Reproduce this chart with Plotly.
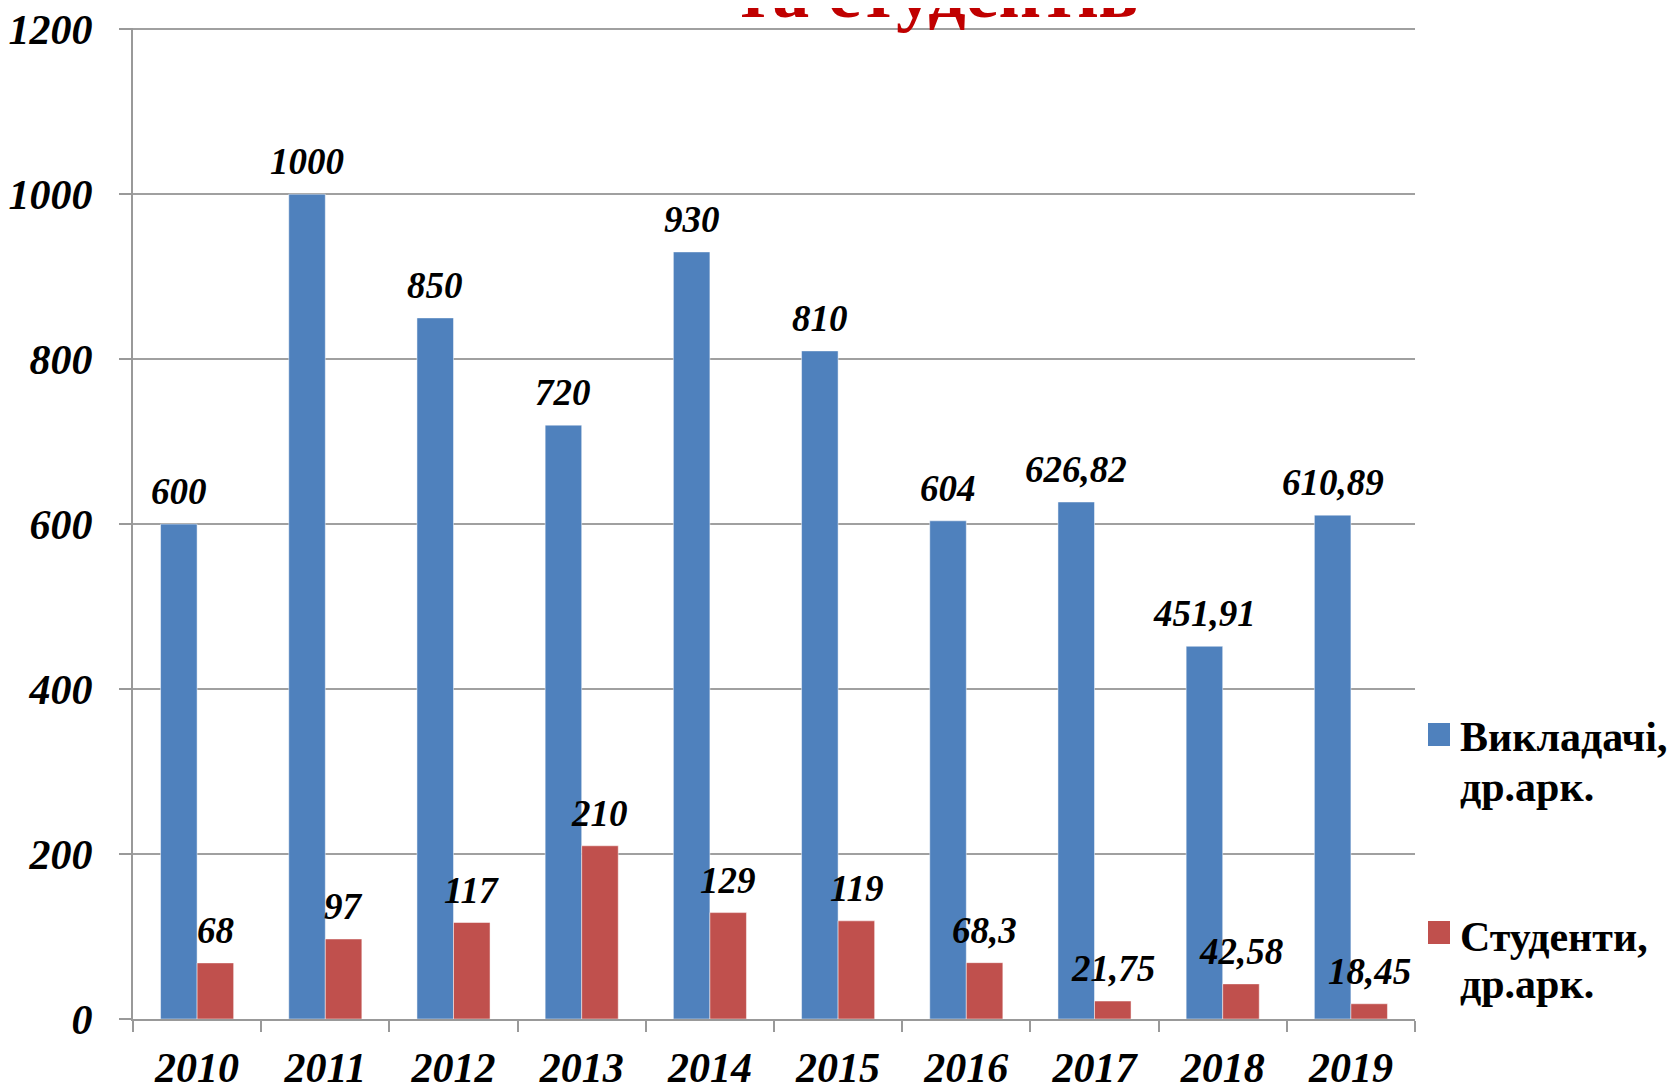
import plotly.graph_objects as go

years = ["2010", "2011", "2012", "2013", "2014", "2015", "2016", "2017", "2018", "2019"]
teachers = [600, 1000, 850, 720, 930, 810, 604, 626.82, 451.91, 610.89]
students = [68, 97, 117, 210, 129, 119, 68.3, 21.75, 42.58, 18.45]
series_names = [["Викладачі,", "др.арк."], ["Студенти,", "др.арк."]]
title_text = "та студентів"
y_ticks = [0, 200, 400, 600, 800, 1000, 1200]

BLUE = "#4F81BD"
RED = "#C0504D"
SERIF = "Liberation Serif"

# page offset of the figure (default body margin)
OFF = 8
W, H = 1676, 1085
# plot area in screen pixels
SL, SR, ST, SB = 133, 1415, 28, 1019
ML, MT = SL - OFF, ST - OFF
MR = W - (SR - OFF)
MB = H - (SB - OFF)
PW, PH = W - ML - MR, H - MT - MB
Y_MAX = 1201.5


def px_x(p):
    return (p - SL) / PW


def px_y(p):
    return (SB - p) / PH


def fmt(v):
    s = f"{v:g}"
    return s.replace(".", ",")


fig = go.Figure()
fig.add_trace(go.Bar(x=years, y=teachers, marker=dict(color=BLUE, line=dict(width=0.8, color="rgba(255,255,255,0.6)")),
                     showlegend=False, name="Викладачі"))
fig.add_trace(go.Bar(x=years, y=students, marker=dict(color=RED, line=dict(width=0.8, color="rgba(255,255,255,0.6)")),
                     showlegend=False, name="Студенти"))

bargap = 0.43
cat_px = PW / len(years)
half = cat_px * (1 - bargap) / 4

annotations = []
for series, shift in ((teachers, -half), (students, half)):
    for i, v in enumerate(series):
        annotations.append(dict(
            x=i, y=v, xref="x", yref="y", text=fmt(v), showarrow=False,
            xshift=shift, yshift=10, yanchor="bottom", xanchor="center",
            font=dict(family=SERIF, size=37, color="black", weight="bold", style="italic")))

# title (partially cut at top of the page)
annotations.append(dict(
    x=px_x(937), y=px_y(29), xref="paper", yref="paper", text=title_text, showarrow=False,
    xanchor="center", yanchor="bottom", yshift=-6,
    font=dict(family=SERIF, size=74, color="#C00000", weight="bold")))

# manual legend
shapes = []
LEG_FS = 42
legend_items = [(series_names[0], BLUE, 723, (750, 800)), (series_names[1], RED, 921, (950, 997))]
for lines, col, top, baselines in legend_items:
    shapes.append(dict(type="rect", xref="paper", yref="paper",
                       x0=px_x(1428), x1=px_x(1450), y0=px_y(top + 23), y1=px_y(top),
                       fillcolor=col, line=dict(width=0)))
    for line, base in zip(lines, baselines):
        annotations.append(dict(
            x=px_x(1458), y=px_y(base + 0.29 * LEG_FS), xref="paper", yref="paper", text=line,
            showarrow=False, xanchor="left", yanchor="bottom", align="left",
            font=dict(family=SERIF, size=LEG_FS, color="black", weight="bold")))

fig.update_layout(
    width=W, height=H,
    margin=dict(l=ML, r=MR, t=MT, b=MB, pad=0, autoexpand=False),
    plot_bgcolor="white", paper_bgcolor="white",
    barmode="group", bargap=bargap, bargroupgap=0,
    annotations=annotations, shapes=shapes,
    showlegend=False,
)
fig.update_xaxes(
    type="category", range=[-0.5, len(years) - 0.5], autorange=False, automargin=False,
    showline=True, linecolor="#999999", linewidth=2,
    ticks="outside", tickson="boundaries", ticklen=11, tickwidth=2, tickcolor="#999999",
    showgrid=False, tickangle=0, ticklabeloverflow="allow",
    tickfont=dict(family=SERIF, size=42, color="black", weight="bold", style="italic"),
    ticklabelstandoff=11,
)
fig.update_yaxes(
    range=[0, Y_MAX], autorange=False, automargin=False, tickvals=y_ticks, ticktext=[str(t) for t in y_ticks],
    showline=True, linecolor="#999999", linewidth=2,
    ticks="outside", ticklen=12, tickwidth=2, tickcolor="#999999",
    showgrid=True, gridcolor="#A0A0A0", gridwidth=2, zeroline=False,
    ticklabeloverflow="allow",
    tickfont=dict(family=SERIF, size=42, color="black", weight="bold", style="italic"),
    ticklabelstandoff=18,
)

fig.write_html("out.html")
